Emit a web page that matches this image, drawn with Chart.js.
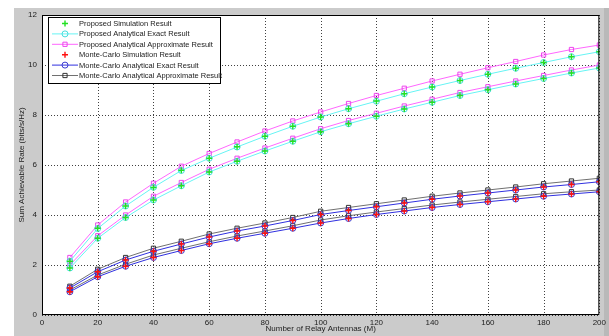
<!DOCTYPE html>
<html>
<head>
<meta charset="utf-8">
<script src="https://cdn.jsdelivr.net/npm/chart.js@4.4.1/dist/chart.umd.min.js"></script>
<style>
  html, body { margin: 0; padding: 0; background: #fff; }
  #wrap { width: 609px; height: 336px; }
</style>
</head>
<body>
<div id="wrap"><canvas id="rateChart" width="609" height="336"></canvas></div>
<script>
// Number of relay antennas (M)
const antennas = [10, 20, 30, 40, 50, 60, 70, 80, 90, 100, 110, 120, 130, 140, 150, 160, 170, 180, 190, 200];

// Proposed scheme, case A (upper pair)
const propApproxA = [2.30, 3.60, 4.52, 5.27, 5.95, 6.46, 6.92, 7.36, 7.76, 8.12, 8.46, 8.78, 9.07, 9.36, 9.63, 9.89, 10.14, 10.40, 10.62, 10.80];
const propExactA  = [2.15, 3.46, 4.36, 5.11, 5.78, 6.27, 6.72, 7.15, 7.55, 7.92, 8.25, 8.55, 8.85, 9.12, 9.38, 9.63, 9.87, 10.10, 10.33, 10.53];
const propSimA    = [2.15, 3.47, 4.36, 5.10, 5.79, 6.27, 6.73, 7.15, 7.55, 7.92, 8.25, 8.56, 8.85, 9.12, 9.38, 9.63, 9.87, 10.10, 10.33, 10.53];
// Proposed scheme, case B (lower pair)
const propApproxB = [2.00, 3.17, 4.00, 4.75, 5.30, 5.83, 6.27, 6.68, 7.07, 7.45, 7.78, 8.07, 8.36, 8.63, 8.90, 9.13, 9.36, 9.58, 9.80, 10.00];
const propExactB  = [1.88, 3.07, 3.90, 4.60, 5.17, 5.72, 6.15, 6.56, 6.95, 7.33, 7.65, 7.95, 8.24, 8.51, 8.78, 9.01, 9.24, 9.46, 9.68, 9.88];
const propSimB    = [1.88, 3.07, 3.90, 4.60, 5.17, 5.72, 6.15, 6.56, 6.95, 7.33, 7.65, 7.95, 8.24, 8.51, 8.78, 9.01, 9.24, 9.46, 9.68, 9.88];

// Monte-Carlo reference, case A (upper pair)
const mcApproxA = [1.15, 1.83, 2.30, 2.67, 2.95, 3.24, 3.47, 3.68, 3.90, 4.15, 4.30, 4.45, 4.60, 4.75, 4.88, 5.00, 5.12, 5.25, 5.36, 5.47];
const mcExactA  = [1.08, 1.73, 2.20, 2.55, 2.84, 3.12, 3.36, 3.56, 3.78, 4.02, 4.18, 4.33, 4.48, 4.63, 4.76, 4.88, 5.00, 5.12, 5.22, 5.33];
const mcSimA    = [1.08, 1.73, 2.20, 2.55, 2.84, 3.12, 3.36, 3.56, 3.78, 4.02, 4.18, 4.33, 4.48, 4.63, 4.76, 4.88, 5.00, 5.12, 5.22, 5.33];
// Monte-Carlo reference, case B (lower pair)
const mcApproxB = [1.00, 1.60, 2.03, 2.40, 2.67, 2.93, 3.16, 3.36, 3.57, 3.80, 3.97, 4.12, 4.26, 4.40, 4.52, 4.63, 4.74, 4.85, 4.93, 5.00];
const mcExactB  = [0.93, 1.53, 1.95, 2.30, 2.58, 2.85, 3.07, 3.27, 3.47, 3.68, 3.86, 4.02, 4.16, 4.30, 4.42, 4.53, 4.64, 4.75, 4.84, 4.93];
const mcSimB    = [0.93, 1.53, 1.95, 2.30, 2.58, 2.85, 3.07, 3.27, 3.47, 3.68, 3.86, 4.02, 4.16, 4.30, 4.42, 4.53, 4.64, 4.75, 4.84, 4.93];

const seriesNames = [
    'Proposed Simulation Result',
    'Proposed Analytical Exact Result',
    'Proposed Analytical Approximate Result',
    'Monte-Carlo Simulation Result',
    'Monte-Carlo Analytical Exact Result',
    'Monte-Carlo Analytical Approximate Result'
];

const xTicks = [0, 20, 40, 60, 80, 100, 120, 140, 160, 180, 200];
const yTicks = [0, 2, 4, 6, 8, 10, 12];

const FONT = "'Liberation Sans', Arial, sans-serif";

// one style per legend entry
const styles = [
    { color: '#22e022', point: 'cross',  line: false, marker: '#22e022' },
    { color: '#66f4f4', point: 'circle', line: true,  marker: '#44dede' },
    { color: '#ff66ff', point: 'rect',   line: true,  marker: '#ee44ee' },
    { color: '#ff1010', point: 'cross',  line: false, marker: '#ff1010' },
    { color: '#3030e0', point: 'circle', line: true,  marker: '#3a3ad0' },
    { color: '#707070', point: 'rect',   line: true,  marker: '#333333' }
];

function toPoints(arr) {
    return antennas.map((m, i) => ({ x: m, y: arr[i] }));
}

function makeSet(idx, values) {
    const s = styles[idx];
    return {
        label: seriesNames[idx],
        data: toPoints(values),
        showLine: s.line,
        borderColor: s.color,
        backgroundColor: 'rgba(0,0,0,0)',
        borderWidth: 1,
        pointStyle: s.point,
        pointRadius: 3,
        pointBorderColor: s.marker,
        pointBorderWidth: s.point === 'cross' ? 1.4 : 1,
        pointBackgroundColor: 'rgba(0,0,0,0)',
        tension: 0
    };
}

const datasets = [
    makeSet(0, propSimA),
    makeSet(3, mcSimA),
    makeSet(0, propSimB),
    makeSet(3, mcSimB),
    makeSet(1, propExactA),
    makeSet(1, propExactB),
    makeSet(4, mcExactA),
    makeSet(4, mcExactB),
    makeSet(2, propApproxA),
    makeSet(2, propApproxB),
    makeSet(5, mcApproxA),
    makeSet(5, mcApproxB)
];

const matlabFrame = {
    id: 'matlabFrame',
    beforeDraw(chart) {
        const { ctx, chartArea: a } = chart;
        ctx.save();
        ctx.fillStyle = '#ffffff';
        ctx.fillRect(0, 0, chart.width, chart.height);
        ctx.fillStyle = '#cbcbcb';
        ctx.fillRect(14, 8, chart.width - 14, chart.height - 8);
        ctx.fillStyle = '#b9b9b9';
        ctx.fillRect(604, 8, 5, chart.height - 8);
        ctx.fillStyle = '#ffffff';
        ctx.fillRect(a.left, a.top, a.right - a.left, a.bottom - a.top);
        ctx.restore();
    },
    beforeDatasetsDraw(chart) {
        // dotted MATLAB-style grid
        const { ctx, chartArea: a, scales } = chart;
        ctx.save();
        ctx.strokeStyle = 'rgba(0,0,0,0.75)';
        ctx.lineWidth = 1;
        ctx.setLineDash([1, 2]);
        xTicks.forEach(v => {
            const px = Math.round(scales.x.getPixelForValue(v)) + 0.5;
            ctx.beginPath();
            ctx.moveTo(px, a.top);
            ctx.lineTo(px, a.bottom);
            ctx.stroke();
        });
        yTicks.forEach(v => {
            const py = Math.round(scales.y.getPixelForValue(v)) + 0.5;
            ctx.beginPath();
            ctx.moveTo(a.left, py);
            ctx.lineTo(a.right, py);
            ctx.stroke();
        });
        ctx.restore();
    },
    afterDraw(chart) {
        const { ctx, chartArea: a } = chart;
        ctx.save();
        // axes box
        ctx.strokeStyle = '#000';
        ctx.lineWidth = 1;
        ctx.strokeRect(a.left + 0.5, a.top + 0.5, a.right - a.left - 1, a.bottom - a.top - 1);

        // axis titles
        ctx.fillStyle = '#222';
        ctx.font = '8px ' + FONT;
        ctx.textAlign = 'center';
        ctx.textBaseline = 'middle';
        ctx.fillText('Number of Relay Antennas (M)', (a.left + a.right) / 2, 329);
        ctx.translate(22, (a.top + a.bottom) / 2);
        ctx.rotate(-Math.PI / 2);
        ctx.fillText('Sum Achievable Rate (bits/s/Hz)', 0, 0);
        ctx.restore();

        // legend box
        ctx.save();
        const bx = 48, by = 17, bw = 172, bh = 66;
        ctx.fillStyle = '#fff';
        ctx.fillRect(bx, by, bw, bh);
        ctx.strokeStyle = '#000';
        ctx.lineWidth = 1;
        ctx.strokeRect(bx + 0.5, by + 0.5, bw, bh);
        ctx.font = '7.5px ' + FONT;
        ctx.textAlign = 'left';
        ctx.textBaseline = 'middle';
        seriesNames.forEach((name, i) => {
            const s = styles[i];
            const y = by + 6.5 + i * 10.4;
            if (s.line) {
                ctx.strokeStyle = s.color;
                ctx.lineWidth = 1;
                ctx.beginPath();
                ctx.moveTo(bx + 4, y);
                ctx.lineTo(bx + 30, y);
                ctx.stroke();
            }
            ctx.strokeStyle = s.marker;
            ctx.fillStyle = 'rgba(0,0,0,0)';
            ctx.lineWidth = s.point === 'cross' ? 1.4 : 1;
            Chart.helpers.drawPoint(ctx, {
                pointStyle: s.point,
                radius: 3,
                borderWidth: s.point === 'cross' ? 1.4 : 1
            }, bx + 17, y);
            ctx.fillStyle = '#222';
            ctx.fillText(name, bx + 31, y + 0.5);
        });
        ctx.restore();
    }
};

new Chart(document.getElementById('rateChart'), {
    type: 'scatter',
    data: { datasets },
    options: {
        responsive: false,
        animation: false,
        layout: { padding: { left: 0, right: 7, top: 15, bottom: 0 } },
        plugins: {
            legend: { display: false },
            tooltip: { enabled: false }
        },
        scales: {
            x: {
                type: 'linear',
                min: 0,
                max: 200,
                afterBuildTicks: s => { s.ticks = xTicks.map(v => ({ value: v })); },
                afterFit: s => { s.height = 21; },
                grid: { display: false, drawTicks: false },
                border: { display: false },
                ticks: { color: '#222', font: { size: 8, family: FONT }, padding: 3, maxRotation: 0 }
            },
            y: {
                type: 'linear',
                min: 0,
                max: 12,
                afterBuildTicks: s => { s.ticks = yTicks.map(v => ({ value: v })); },
                afterFit: s => { s.width = 42; },
                grid: { display: false, drawTicks: false },
                border: { display: false },
                ticks: { color: '#222', font: { size: 8, family: FONT }, padding: 5 }
            }
        }
    },
    plugins: [matlabFrame]
});
</script>
</body>
</html>
